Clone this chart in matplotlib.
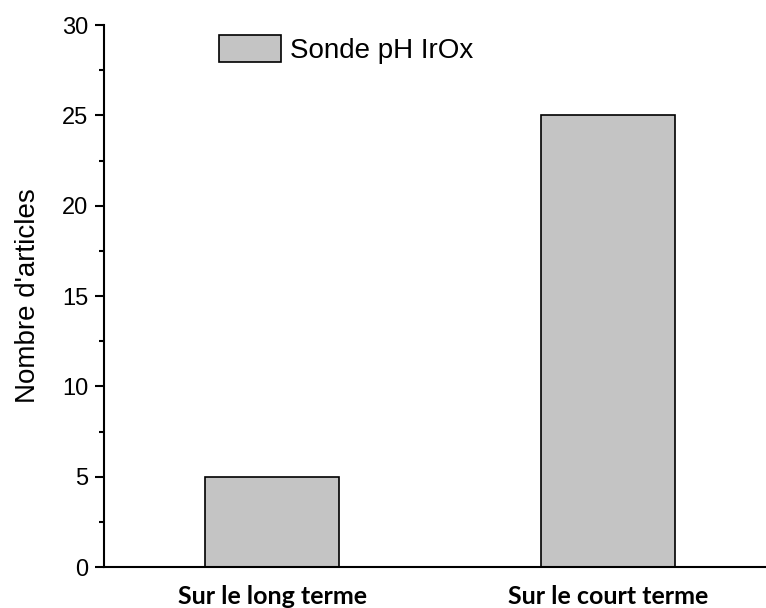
import numpy as np
import matplotlib.pyplot as plt
from matplotlib.ticker import MultipleLocator

# données
categories = ["Sur le long terme", "Sur le court terme"]
nombre = [5, 25]
serie = "Sonde pH IrOx"

x = np.arange(1, len(categories) + 1)

fig = plt.figure(figsize=(7.66, 6.08), dpi=100)
ax = fig.add_axes([0.1358, 0.0674, 0.8642, 0.8914])

ax.bar(x, nombre, width=0.4, color="#c4c4c4", edgecolor="black", linewidth=1.2, label=serie)

ax.set_xlim(0.5, 2.47)
ax.set_ylim(0, 30)
ax.yaxis.set_major_locator(MultipleLocator(5))
ax.yaxis.set_minor_locator(MultipleLocator(2.5))

for s in ["top", "right"]:
    ax.spines[s].set_visible(False)
ax.spines["left"].set_linewidth(1.5)
ax.spines["bottom"].set_linewidth(1.5)

ax.tick_params(axis="y", which="major", direction="out", length=6.5, width=1.5,
               labelsize=17, pad=5)
ax.tick_params(axis="y", which="minor", direction="out", length=3.5, width=1.5)
for lab in ax.get_yticklabels():
    lab.set_fontfamily("Liberation Sans")

ax.set_xticks(x)
ax.set_xticklabels(categories, fontfamily="Lato", fontweight="bold", fontsize=18)
ax.tick_params(axis="x", length=0, pad=13)

ax.set_ylabel("Nombre d'articles", fontfamily="Liberation Sans", fontsize=20, labelpad=15)

leg = ax.legend(loc="upper left", bbox_to_anchor=(0.136, 1.028), frameon=False,
                prop={"family": "Liberation Sans", "size": 20},
                handlelength=2.23, handleheight=1.12, handletextpad=0.33)

fig.savefig("out.png", dpi=100)
